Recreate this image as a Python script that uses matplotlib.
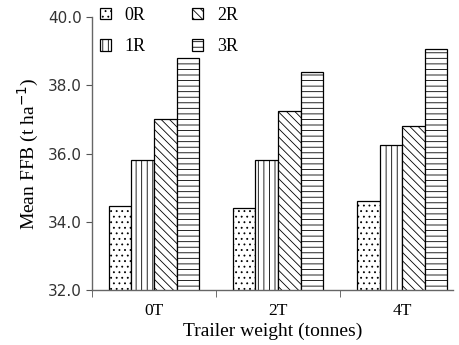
import numpy as np
import matplotlib
matplotlib.use("Agg")
import matplotlib.pyplot as plt

# data
groups = ["0T", "2T", "4T"]
series = ["0R", "1R", "2R", "3R"]
r0 = [34.47, 34.40, 34.62]
r1 = [35.82, 35.82, 36.25]
r2 = [37.02, 37.25, 36.80]
r3 = [38.80, 38.40, 39.05]
hatches = ["...", "|||", "\\\\\\\\", "---"]

plt.rcParams["font.family"] = "Liberation Serif"
plt.rcParams["hatch.linewidth"] = 0.6

fig = plt.figure(figsize=(4.59, 3.45), dpi=100)
ax = fig.add_axes([0.2004, 0.1594, 0.7865, 0.7913])

x = np.arange(len(groups))
w = 0.182
vals = [r0, r1, r2, r3]
for i, (name, v) in enumerate(zip(series, vals)):
    ax.bar(x + (i - 1.5) * w, v, w, bottom=0, color="white", edgecolor="black",
           linewidth=0.9, hatch=hatches[i], label=name)

ax.set_ylim(32, 40)
ax.set_xlim(-0.5, 2.41)
ax.set_yticks([32, 34, 36, 38, 40])
ax.set_yticklabels(["32.0", "34.0", "36.0", "38.0", "40.0"],
                   fontfamily="DejaVu Sans", fontsize=11, color="#333333")
ax.set_xticks(x)
ax.set_xticklabels(groups, fontsize=12.5)
ax.tick_params(axis="x", which="major", length=0, pad=9)
ax.set_xticks([-0.5, 0.5, 1.5], minor=True)
ax.tick_params(axis="x", which="minor", length=5, color="#555555")
ax.tick_params(axis="y", length=4.5, color="#555555", pad=3)

for s in ["top", "right"]:
    ax.spines[s].set_visible(False)
for s in ["left", "bottom"]:
    ax.spines[s].set_color("#666666")
    ax.spines[s].set_linewidth(1.0)

ax.set_ylabel("Mean FFB (t ha$^{-1}$)", fontsize=14, labelpad=5)
ax.set_xlabel("Trailer weight (tonnes)", fontsize=14, labelpad=3)

ax.legend(ncol=2, frameon=False, loc="upper left",
          bbox_to_anchor=(100 / 459, 1 - 7 / 345), bbox_transform=fig.transFigure,
          borderpad=0, borderaxespad=0,
          fontsize=13, handlelength=0.6, handleheight=0.6, labelspacing=0.8,
          columnspacing=2.6, handletextpad=0.75)

fig.savefig("out.png", dpi=100)
